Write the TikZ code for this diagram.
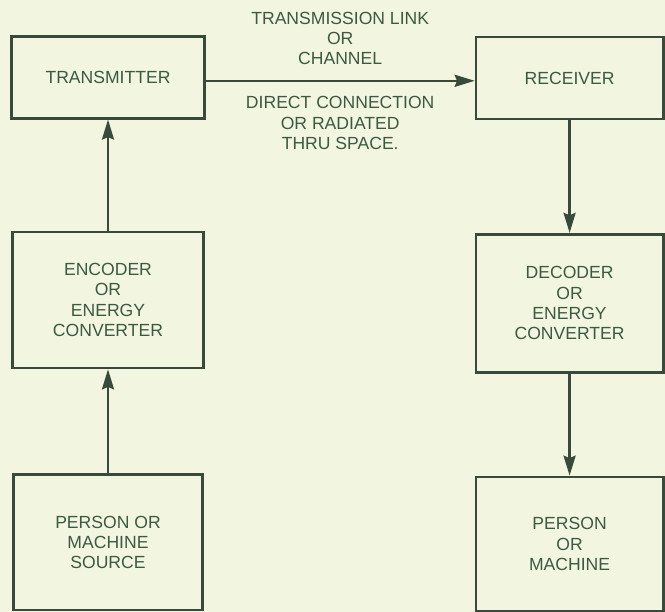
\documentclass[tikz,border=0pt]{standalone}
\usepackage{fontspec}
\setmainfont{Liberation Sans}
\usepackage{tikz}
\usetikzlibrary{arrows.meta, positioning}
\definecolor{paper}{HTML}{F2F5DF}
\definecolor{ink}{HTML}{3A4A3A}
\definecolor{inktext}{HTML}{3C5A40}
\tikzstyle{block} = [
  rectangle, draw=ink, line width=1.9pt, text=inktext,
  align=center, font=\fontsize{12.5}{14.4}\selectfont
]
\tikzstyle{arrow} = [-{Stealth[length=5mm, width=3mm, inset=0.6mm]}, draw=ink, line width=1.7pt]
\tikzstyle{lbl} = [text=inktext, align=center, font=\fontsize{12.5}{14.4}\selectfont]

\begin{document}
\begin{tikzpicture}

  \fill[paper] (0, 0) rectangle (16.625, -15.3);
  \useasboundingbox (0, 0) rectangle (16.625, -15.3);

  \node[block, minimum width=4.82cm, minimum height=2.05cm] (tx) at (2.70, -1.93) {TRANSMITTER};
  \node[block, minimum width=4.68cm, minimum height=2.05cm] (rx) at (14.24, -1.95) {RECEIVER};
  \node[block, minimum width=4.78cm, minimum height=3.40cm] (enc) at (2.70, -7.50) {ENCODER\\OR\\ENERGY\\CONVERTER};
  \node[block, minimum width=4.68cm, minimum height=3.45cm] (dec) at (14.24, -7.58) {DECODER\\OR\\ENERGY\\CONVERTER};
  \node[block, minimum width=4.72cm, minimum height=3.38cm] (src) at (2.70, -13.56) {PERSON OR\\MACHINE\\SOURCE};
  \node[block, minimum width=4.68cm, minimum height=3.35cm] (dst) at (14.24, -13.60) {PERSON\\OR\\MACHINE};

  \draw[arrow] (src) -- (enc);
  \draw[arrow] (enc) -- (tx);
  \draw[arrow] (tx.east |- 0, -2.02) -- node[lbl, above=2.5mm] {TRANSMISSION LINK\\OR\\CHANNEL}
    node[lbl, below=2.5mm] {DIRECT CONNECTION\\OR RADIATED\\THRU SPACE.} (rx.west |- 0, -2.02);
  \draw[arrow] (rx) -- (dec);
  \draw[arrow] (dec) -- (dst);

\end{tikzpicture}
\end{document}
